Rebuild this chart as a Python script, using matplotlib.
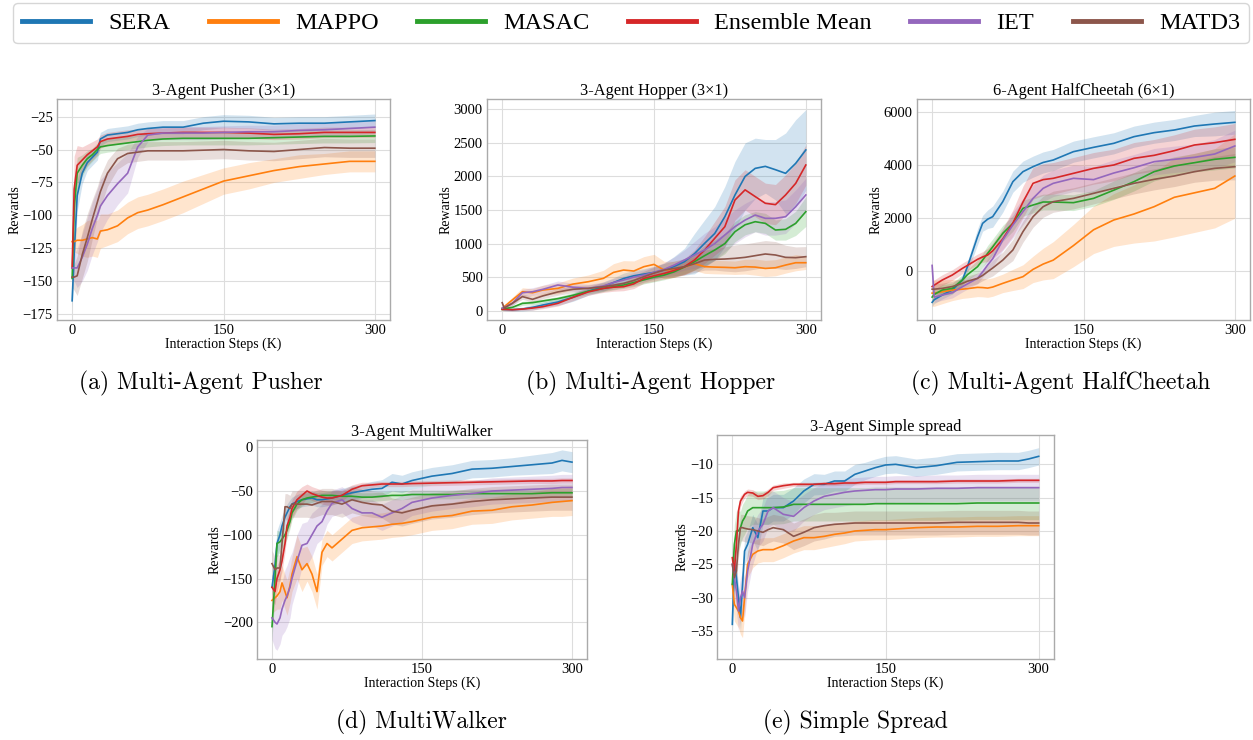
import numpy as np
import matplotlib
matplotlib.use('Agg')
import matplotlib.pyplot as plt

# methods and colours (legend order)
methods = ['SERA', 'MAPPO', 'MASAC', 'Ensemble Mean', 'IET', 'MATD3']
colors = ['#1f77b4', '#ff7f0e', '#2ca02c', '#d62728', '#9467bd', '#8c564b']

# ---- (a) 3-Agent Pusher ----
pusher_x = [0, 2, 5, 10, 15, 20, 25, 28, 35, 45, 55, 65, 75, 90, 110, 130, 150, 175, 200, 225, 250, 275, 300]
pusher_sera = [-165, -130, -85, -68, -60, -56, -52, -42, -39, -38, -37, -35, -34, -33, -33, -30, -28.5, -29, -30.5, -30, -30, -29, -28]
pusher_mappo = [-120, -120, -119, -119, -118, -117, -118, -112, -111, -108, -102, -98, -96, -92, -86, -80, -74, -70, -66, -63, -61, -59, -59]
pusher_masac = [-148, -95, -68, -62, -57, -54, -50, -48, -47, -46, -45, -44, -43, -42, -41.5, -41.5, -41.5, -41.5, -41, -40.5, -40, -40, -39.7]
pusher_ens = [-140, -80, -62, -58, -54, -51, -48, -44, -42, -41, -40, -38.5, -38, -37.5, -37, -37, -37, -37.5, -38.5, -38, -37, -37, -37]
pusher_iet = [-140, -140, -140, -132, -122, -110, -100, -93, -85, -76, -68, -48, -39, -37.5, -37.5, -37.5, -37, -36.5, -36.5, -35.5, -35, -34, -33]
pusher_matd3 = [-147, -147, -146, -130, -117, -103, -90, -82, -68, -57, -53, -52, -51, -51, -51, -50.5, -50, -51, -51.5, -50, -48.5, -49, -49]
pusher_sera_sd = [5, 15, 12, 8, 6, 6, 6, 5, 5, 5, 5, 5, 5, 5, 5, 5, 5, 5, 5, 5, 5, 5, 5]
pusher_mappo_sd = [8, 8, 10, 12, 14, 14, 14, 13, 12, 12, 12, 12, 12, 12, 12, 11, 10, 10, 9, 9, 8, 8, 8]
pusher_masac_sd = [5, 15, 12, 8, 6, 5, 5, 5, 5, 5, 5, 5, 5, 5, 5, 5, 5, 5, 5, 5, 5, 5, 5]
pusher_ens_sd = [10, 25, 15, 10, 8, 7, 6, 5, 5, 5, 5, 4, 4, 4, 4, 4, 4, 4, 4, 4, 4, 4, 4]
pusher_iet_sd = [8, 10, 15, 18, 20, 20, 20, 20, 18, 16, 15, 8, 5, 5, 5, 5, 5, 5, 5, 5, 5, 5, 5]
pusher_matd3_sd = [8, 10, 15, 18, 18, 15, 12, 12, 10, 8, 7, 7, 7, 7, 7, 7, 7, 7, 7, 7, 7, 7, 7]

# ---- (b) 3-Agent Hopper ----
hopper_x = [0, 2, 10, 20, 30, 40, 55, 70, 85, 100, 110, 120, 130, 140, 150, 160, 170, 180, 190, 200, 210, 220, 230, 240, 250, 260, 270, 280, 290, 300]
hopper_sera = [30, 20, 15, 25, 50, 85, 130, 200, 290, 360, 420, 480, 520, 546, 570, 605, 660, 730, 850, 1003, 1150, 1400, 1723, 2000, 2120, 2150, 2100, 2046, 2195, 2394]
hopper_mappo = [30, 60, 160, 283, 268, 308, 333, 397, 432, 482, 571, 606, 591, 656, 690, 606, 616, 650, 700, 656, 650, 646, 640, 656, 650, 630, 640, 680, 715, 715]
hopper_masac = [20, 30, 50, 110, 120, 145, 180, 230, 290, 333, 360, 383, 420, 460, 500, 531, 580, 650, 730, 820, 904, 1000, 1177, 1280, 1326, 1301, 1202, 1212, 1301, 1475]
hopper_ens = [20, 20, 15, 25, 40, 60, 110, 200, 280, 333, 350, 358, 400, 482, 520, 556, 600, 656, 755, 904, 1078, 1252, 1649, 1800, 1700, 1600, 1580, 1724, 1897, 2170]
hopper_iet = [40, 50, 110, 268, 283, 318, 383, 350, 333, 368, 420, 457, 500, 531, 570, 616, 680, 755, 830, 904, 1000, 1128, 1252, 1350, 1425, 1376, 1376, 1400, 1550, 1724]
hopper_matd3 = [120, 40, 110, 210, 170, 220, 280, 320, 333, 358, 380, 408, 450, 507, 560, 606, 630, 656, 700, 755, 765, 770, 780, 795, 820, 845, 830, 795, 790, 805]
hopper_sera_sd = [20, 20, 20, 30, 40, 40, 50, 60, 60, 70, 70, 80, 80, 80, 90, 100, 150, 200, 300, 350, 400, 450, 500, 500, 450, 400, 450, 600, 650, 600]
hopper_mappo_sd = [20, 30, 40, 60, 60, 70, 80, 90, 100, 120, 130, 140, 150, 150, 150, 130, 120, 110, 100, 100, 100, 100, 100, 110, 120, 120, 120, 120, 120, 100]
hopper_masac_sd = [20, 20, 20, 30, 30, 30, 30, 40, 40, 50, 50, 50, 60, 60, 70, 70, 80, 100, 120, 150, 150, 150, 150, 150, 150, 150, 150, 160, 180, 220]
hopper_ens_sd = [20, 20, 20, 20, 30, 30, 40, 50, 50, 60, 60, 60, 70, 70, 80, 80, 100, 120, 150, 200, 250, 300, 300, 300, 300, 300, 300, 300, 300, 300]
hopper_iet_sd = [20, 30, 40, 50, 60, 60, 60, 60, 60, 60, 60, 60, 70, 80, 90, 100, 120, 150, 200, 250, 250, 250, 250, 250, 250, 250, 250, 250, 250, 250]
hopper_matd3_sd = [20, 20, 30, 40, 40, 40, 50, 50, 50, 60, 60, 60, 70, 80, 90, 100, 110, 120, 130, 150, 160, 180, 200, 200, 200, 200, 200, 180, 160, 150]

# ---- (c) 6-Agent HalfCheetah ----
cheetah_x = [0, 2, 10, 20, 30, 35, 45, 50, 55, 60, 70, 80, 90, 100, 110, 120, 140, 160, 180, 200, 220, 240, 260, 280, 300]
cheetah_sera = [-1200, -1100, -922, -733, -354, 152, 1288, 1793, 1950, 2046, 2614, 3372, 3751, 3940, 4100, 4193, 4509, 4673, 4825, 5077, 5229, 5330, 5481, 5557, 5620]
cheetah_mappo = [-850, -850, -800, -733, -700, -680, -632, -640, -660, -620, -480, -350, -227, 50, 250, 400, 950, 1550, 1920, 2147, 2425, 2780, 2950, 3120, 3587]
cheetah_masac = [-1000, -900, -733, -670, -354, -150, 152, 400, 657, 900, 1415, 1793, 2362, 2488, 2602, 2600, 2577, 2740, 3050, 3372, 3751, 3966, 4092, 4219, 4294]
cheetah_ens = [-600, -550, -354, -164, 88, 200, 430, 520, 594, 750, 1200, 1800, 2600, 3309, 3450, 3499, 3688, 3877, 4004, 4256, 4370, 4547, 4762, 4850, 4976]
cheetah_iet = [200, -1000, -922, -834, -606, -500, -290, -50, 215, 450, 1162, 1730, 2236, 2740, 3120, 3309, 3499, 3450, 3700, 3900, 4130, 4219, 4294, 4420, 4724]
cheetah_matd3 = [-700, -700, -670, -600, -480, -400, -290, -180, -38, 100, 400, 783, 1478, 2046, 2425, 2614, 2740, 2930, 3120, 3309, 3461, 3587, 3751, 3877, 3940]
cheetah_sera_sd = [150, 150, 150, 150, 150, 200, 300, 300, 350, 400, 400, 400, 400, 400, 400, 400, 400, 400, 400, 400, 400, 400, 400, 450, 450]
cheetah_mappo_sd = [500, 500, 450, 400, 350, 350, 350, 350, 350, 350, 350, 400, 450, 500, 600, 700, 800, 900, 1000, 1100, 1300, 1500, 1500, 1500, 1600]
cheetah_masac_sd = [200, 200, 200, 200, 200, 200, 250, 250, 300, 300, 300, 300, 300, 300, 300, 300, 300, 300, 350, 350, 350, 350, 350, 400, 400]
cheetah_ens_sd = [200, 200, 200, 200, 200, 200, 200, 200, 250, 300, 400, 500, 600, 600, 600, 600, 600, 600, 600, 600, 600, 600, 600, 600, 600]
cheetah_iet_sd = [200, 200, 200, 200, 200, 200, 200, 200, 250, 300, 400, 500, 500, 500, 500, 500, 500, 500, 500, 500, 500, 500, 500, 550, 600]
cheetah_matd3_sd = [200, 200, 200, 200, 200, 200, 200, 200, 250, 300, 300, 400, 400, 400, 400, 400, 400, 400, 400, 400, 400, 400, 400, 450, 500]

# ---- (d) 3-Agent MultiWalker ----
walker_x = [0, 3, 5, 8, 10, 13, 15, 18, 20, 25, 30, 35, 40, 45, 50, 55, 60, 70, 80, 90, 100, 110, 120, 130, 140, 160, 180, 200, 220, 240, 260, 280, 290, 300]
walker_sera = [-160, -135, -110, -100, -90, -80, -75, -68, -65, -62, -60, -59, -58, -60, -60, -59, -58, -55, -52, -50, -48, -47, -40, -42, -38, -33, -30, -25, -24, -22, -20, -18, -15, -17]
walker_mappo = [-175, -172, -170, -165, -155, -165, -172, -158, -145, -125, -140, -133, -145, -165, -120, -110, -115, -105, -95, -92, -91, -90, -88, -87, -85, -80, -78, -73, -72, -68, -66, -63, -62, -61]
walker_masac = [-205, -150, -110, -108, -105, -100, -95, -85, -75, -65, -60, -58, -57, -56, -55, -55, -55, -56, -56, -57, -57, -56, -55, -55, -54, -54, -54, -53, -53, -53, -53, -52, -52, -52]
walker_ens = [-160, -165, -150, -140, -130, -110, -90, -80, -70, -60, -55, -50, -53, -55, -57, -58, -58, -55, -48, -44, -43, -42, -42, -42, -41.5, -41, -40.5, -40, -39.5, -39, -38.5, -38.5, -38, -38]
walker_iet = [-195, -200, -202, -195, -185, -175, -170, -160, -150, -130, -112, -110, -100, -90, -85, -73, -64, -60, -70, -75, -75, -80, -75, -70, -63, -58, -55, -53, -50, -49, -48, -47, -46, -46]
walker_matd3 = [-133, -140, -138, -138, -110, -68, -68, -70, -65, -65, -65, -65, -66, -64, -62, -62, -62, -65, -60, -63, -65, -66, -73, -75, -72, -67, -65, -62, -60, -59, -58, -57, -57, -57]
walker_sera_sd = [10, 15, 15, 15, 12, 10, 10, 8, 8, 8, 8, 8, 8, 8, 8, 8, 8, 8, 8, 8, 9, 10, 10, 10, 10, 10, 10, 10, 10, 10, 11, 12, 12, 12]
walker_mappo_sd = [15, 15, 15, 20, 20, 20, 20, 20, 20, 25, 25, 20, 20, 20, 15, 15, 15, 15, 15, 15, 15, 15, 15, 15, 15, 15, 15, 15, 15, 15, 15, 16, 17, 17]
walker_masac_sd = [15, 20, 15, 12, 10, 10, 10, 8, 8, 7, 7, 6, 6, 5, 5, 5, 5, 5, 5, 5, 5, 5, 5, 5, 5, 5, 5, 5, 5, 5, 5, 5, 5, 5]
walker_ens_sd = [15, 15, 15, 12, 12, 10, 10, 10, 10, 10, 10, 8, 8, 8, 8, 8, 8, 6, 5, 4, 3, 3, 3, 3, 3, 3, 3, 3, 3, 3, 3, 3, 3, 3]
walker_iet_sd = [25, 30, 30, 30, 30, 35, 35, 35, 30, 30, 25, 25, 25, 20, 20, 15, 15, 15, 15, 15, 15, 15, 15, 15, 15, 15, 15, 15, 15, 15, 15, 15, 15, 15]
walker_matd3_sd = [15, 15, 15, 15, 15, 15, 15, 15, 15, 15, 15, 15, 15, 15, 15, 15, 15, 15, 15, 15, 15, 15, 15, 15, 15, 15, 15, 15, 15, 15, 15, 15, 15, 15]

# ---- (e) 3-Agent Simple spread ----
spread_x = [0, 2, 4, 6, 8, 10, 12, 15, 20, 25, 30, 35, 40, 50, 60, 70, 80, 90, 100, 110, 120, 130, 140, 150, 160, 180, 200, 220, 240, 260, 280, 290, 300]
spread_sera = [-34, -25, -27, -30, -33, -28, -23, -22, -19.5, -21, -17, -17, -16.5, -16.5, -15.5, -14, -13, -13, -12.5, -12.5, -11.5, -11, -10.5, -10.1, -10, -10.5, -10.2, -9.7, -9.6, -9.5, -9.5, -9.2, -8.8]
spread_mappo = [-28, -31, -31.5, -32, -33, -33.5, -30, -25, -23.5, -23, -22.8, -22.8, -22.8, -22.2, -21.5, -21, -21, -20.8, -20.5, -20.3, -20, -19.9, -19.8, -19.8, -19.7, -19.5, -19.4, -19.4, -19.3, -19.3, -19.2, -19.2, -19.2]
spread_masac = [-28, -22, -20, -20, -19.5, -18.5, -18, -17, -16.5, -16.5, -16.5, -16.5, -16.5, -16.4, -16, -16, -16, -16, -16, -16, -16, -16, -15.9, -15.9, -15.9, -15.9, -15.9, -15.9, -15.8, -15.8, -15.8, -15.8, -15.8]
spread_ens = [-24, -26, -22, -17, -15.5, -15, -14.5, -14.2, -14.3, -14.8, -14.7, -14.2, -13.5, -13.2, -13, -13, -13, -12.9, -12.9, -12.8, -12.8, -12.7, -12.7, -12.7, -12.6, -12.6, -12.6, -12.5, -12.5, -12.5, -12.4, -12.4, -12.4]
spread_iet = [-25, -27, -29, -32, -30, -29, -30, -26, -22, -20, -19, -17, -16.5, -17.5, -17.8, -16.5, -15.5, -14.8, -14.5, -14.2, -14, -13.9, -13.8, -13.8, -13.7, -13.7, -13.6, -13.6, -13.5, -13.5, -13.5, -13.5, -13.5]
spread_matd3 = [-25, -27, -26, -22, -19.5, -19.5, -19.6, -19.7, -19.8, -20, -20.2, -19.8, -19.5, -19.8, -20.8, -20.2, -19.5, -19.2, -19, -18.9, -18.8, -18.8, -18.8, -18.8, -18.8, -18.8, -18.8, -18.7, -18.7, -18.7, -18.7, -18.8, -18.8]
spread_sera_sd = [2, 2, 2, 2, 2, 2, 2, 2, 2, 2, 2, 2, 2, 2, 2, 1.8, 1.6, 1.5, 1.5, 1.5, 1.5, 1.3, 1.3, 1.3, 1.3, 1.3, 1.3, 1.3, 1.3, 1.3, 1.3, 1.3, 1.3]
spread_mappo_sd = [2.5, 2.5, 2.5, 2.5, 2.5, 2.5, 2.5, 2, 2, 1.8, 1.8, 1.8, 1.8, 1.8, 1.8, 1.8, 1.8, 1.7, 1.7, 1.6, 1.5, 1.5, 1.5, 1.5, 1.5, 1.5, 1.5, 1.5, 1.5, 1.5, 1.5, 1.5, 1.5]
spread_masac_sd = [3, 3, 3, 3, 2.5, 2.5, 2.5, 2.5, 2.5, 2.5, 2.5, 2.5, 2.5, 2.5, 2.5, 2.5, 2.5, 2.5, 2.5, 2.5, 2.5, 2.5, 2.5, 2.5, 2.5, 2.5, 2.5, 2.5, 2.5, 2.5, 2.5, 2.5, 2.5]
spread_ens_sd = [1.5, 1.5, 1.5, 1, 0.8, 0.6, 0.5, 0.5, 0.5, 0.5, 0.5, 0.5, 0.4, 0.4, 0.3, 0.3, 0.3, 0.3, 0.3, 0.3, 0.3, 0.3, 0.3, 0.3, 0.3, 0.3, 0.3, 0.3, 0.3, 0.3, 0.3, 0.3, 0.3]
spread_iet_sd = [3, 3, 3, 3, 3, 3, 3, 3, 3, 2.5, 2.5, 2.5, 2.5, 2.5, 2.2, 2, 2, 2, 2, 2, 2, 2, 2, 2, 2, 2, 2, 2, 2, 2, 2, 2, 2]
spread_matd3_sd = [2, 2, 2, 2, 2, 2, 2, 2, 2, 2, 2, 2, 2, 2, 2, 2, 2, 2, 1.8, 1.8, 1.8, 1.8, 1.8, 1.8, 1.8, 1.8, 1.8, 1.8, 1.8, 1.8, 1.8, 1.8, 1.8]

serif = 'Liberation Serif'
plt.rcParams['font.family'] = serif
plt.rcParams['axes.unicode_minus'] = True

fig = plt.figure(figsize=(12.53, 7.4), dpi=100)


def px_rect(x0, y0, x1, y1):
    # pixel box -> figure fraction
    return [x0 / 1253, 1 - y1 / 740, (x1 - x0) / 1253, (y1 - y0) / 740]


def draw_panel(rect, x, means, sds, title, yticks, ylim, caption, cap_xy):
    ax = fig.add_axes(px_rect(*rect))
    x = np.array(x)
    for m, s, c in zip(means, sds, colors):
        m = np.array(m, dtype=float)
        s = np.array(s, dtype=float)
        ax.fill_between(x, m - s, m + s, color=c, alpha=0.2, lw=0)
    for m, c, name in zip(means, colors, methods):
        ax.plot(x, m, color=c, lw=1.2, label=name)
    ax.set_xlim(-15, 315)
    ax.set_ylim(*ylim)
    ax.set_xticks([0, 150, 300])
    ax.set_yticks(yticks)
    ax.grid(True, color='#dddddd', lw=0.8)
    ax.set_axisbelow(True)
    for sp in ax.spines.values():
        sp.set_color('#aaaaaa')
        sp.set_linewidth(1.0)
    ax.tick_params(length=0, labelsize=10.5, pad=3)
    ax.set_title(title, fontsize=11.8, pad=2)
    ax.set_xlabel('Interaction Steps (K)', fontsize=10, labelpad=0)
    ax.set_ylabel('Rewards', fontsize=10, labelpad=1)
    fig.text(cap_xy[0] / 1253, 1 - cap_xy[1] / 740, caption, family='cmr10',
             fontsize=17, ha='center', va='center')
    return ax


ax_a = draw_panel((57, 99, 390, 320), pusher_x,
                  [pusher_sera, pusher_mappo, pusher_masac, pusher_ens, pusher_iet, pusher_matd3],
                  [pusher_sera_sd, pusher_mappo_sd, pusher_masac_sd, pusher_ens_sd, pusher_iet_sd, pusher_matd3_sd],
                  '3-Agent Pusher (3×1)', [-175, -150, -125, -100, -75, -50, -25], (-179.6, -11.6),
                  '(a) Multi-Agent Pusher', (201, 383))
draw_panel((487, 99, 821, 320), hopper_x,
           [hopper_sera, hopper_mappo, hopper_masac, hopper_ens, hopper_iet, hopper_matd3],
           [hopper_sera_sd, hopper_mappo_sd, hopper_masac_sd, hopper_ens_sd, hopper_iet_sd, hopper_matd3_sd],
           '3-Agent Hopper (3×1)', [0, 500, 1000, 1500, 2000, 2500, 3000], (-138, 3153),
           '(b) Multi-Agent Hopper', (651, 383))
draw_panel((917, 99, 1250, 320), cheetah_x,
           [cheetah_sera, cheetah_mappo, cheetah_masac, cheetah_ens, cheetah_iet, cheetah_matd3],
           [cheetah_sera_sd, cheetah_mappo_sd, cheetah_masac_sd, cheetah_ens_sd, cheetah_iet_sd, cheetah_matd3_sd],
           '6-Agent HalfCheetah (6×1)', [0, 2000, 4000, 6000], (-1868, 6504),
           '(c) Multi-Agent HalfCheetah', (1061, 383))
draw_panel((257, 440, 587, 659), walker_x,
           [walker_sera, walker_mappo, walker_masac, walker_ens, walker_iet, walker_matd3],
           [walker_sera_sd, walker_mappo_sd, walker_masac_sd, walker_ens_sd, walker_iet_sd, walker_matd3_sd],
           '3-Agent MultiWalker', [-200, -150, -100, -50, 0], (-242, 8.3),
           '(d) MultiWalker', (421, 722))
draw_panel((717, 435, 1054, 659), spread_x,
           [spread_sera, spread_mappo, spread_masac, spread_ens, spread_iet, spread_matd3],
           [spread_sera_sd, spread_mappo_sd, spread_masac_sd, spread_ens_sd, spread_iet_sd, spread_matd3_sd],
           '3-Agent Simple spread', [-35, -30, -25, -20, -15, -10], (-39.2, -5.6),
           '(e) Simple Spread', (855, 722))

handles, labels = ax_a.get_legend_handles_labels()
leg = fig.legend(handles, labels, loc='upper center', ncol=6,
                 bbox_to_anchor=(631 / 1253, 1 - 3 / 740), borderaxespad=0,
                 fontsize=17.5, handlelength=2.8, handletextpad=0.75,
                 columnspacing=1.58, borderpad=0.38, frameon=True,
                 fancybox=True, edgecolor='#cccccc')
for ln in leg.get_lines():
    ln.set_linewidth(3.5)

fig.savefig('out.png', dpi=100)
